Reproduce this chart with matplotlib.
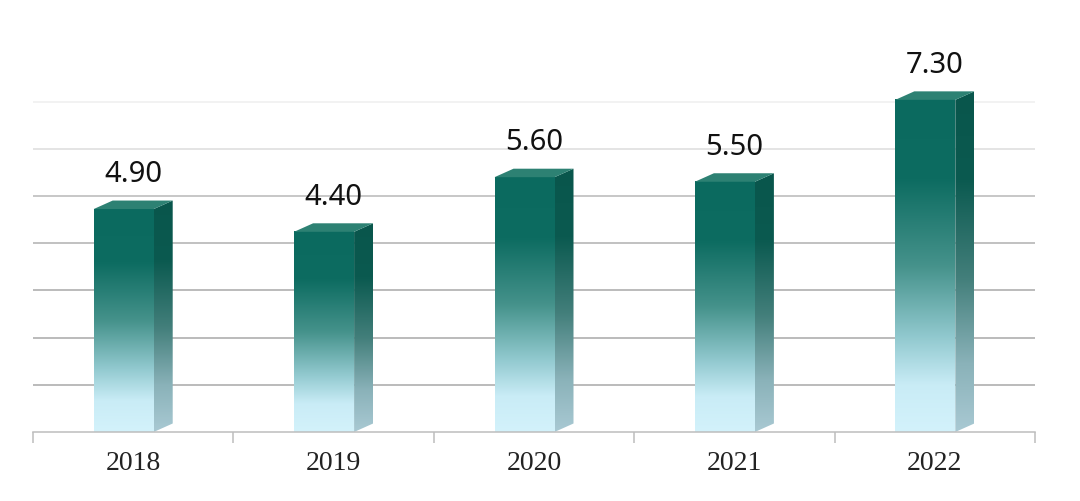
import matplotlib
matplotlib.use("Agg")
import matplotlib.pyplot as plt
import numpy as np
from matplotlib.colors import LinearSegmentedColormap
from matplotlib.patches import Polygon

# ── Data ─────────────────────────────────────────────────────────────────────
years  = ["2018", "2019", "2020", "2021", "2022"]
values = [4.90, 4.40, 5.60, 5.50, 7.30]

# ── Geometry (pixel based, figure is 1080x501 @ 100 dpi) ─────────────────────
W, H = 1080, 501
AX_L, AX_R = 33, 1035          # axis extents in px
AX_BOT, AX_TOP = 432, 20
PX_PER_UNIT = 45.5
px_cat = (AX_R - AX_L) / len(years)

front_w = 60 / px_cat          # front face width (category units)
depth_x = 19 / px_cat          # oblique depth, x
depth_y = 8.5 / PX_PER_UNIT    # oblique depth, y
grid_step = 47.2 / PX_PER_UNIT

front_cmap = LinearSegmentedColormap.from_list("front", [
    (0.00, "#0b6a5f"), (0.24, "#0d6c61"), (0.50, "#45928b"),
    (0.72, "#93cad0"), (0.86, "#c9ecf6"), (1.00, "#d3f2fb")])
side_cmap = LinearSegmentedColormap.from_list("side", [
    (0.00, "#09564c"), (0.26, "#0b5a50"), (0.55, "#437f7b"),
    (0.80, "#8ab2b9"), (1.00, "#a9c9d3")])
top_color = "#2d8173"

fig = plt.figure(figsize=(W / 100, H / 100), dpi=100)
ax = fig.add_axes([AX_L / W, 1 - AX_BOT / H, (AX_R - AX_L) / W, (AX_BOT - AX_TOP) / H])

# gridlines
grid_colors = ["#a8a8a8", "#a8a8a8", "#a8a8a8", "#b0b0b0", "#b8b8b8", "#dcdcdc", "#efefef"]
for k, gc in enumerate(grid_colors, start=1):
    ax.axhline(k * grid_step, color=gc, lw=1.1, zorder=0)

grad = np.linspace(0, 1, 256).reshape(-1, 1)

for i, v in enumerate(values):
    x0 = i - (front_w + depth_x) / 2
    x1 = x0 + front_w
    # front face
    ax.imshow(grad, cmap=front_cmap, aspect="auto", origin="upper",
              extent=[x0, x1, 0, v], zorder=2, interpolation="bilinear")
    # side face
    side = Polygon([(x1, 0), (x1 + depth_x, depth_y), (x1 + depth_x, v + depth_y), (x1, v)],
                   closed=True, facecolor="none", edgecolor="none")
    ax.add_patch(side)
    im = ax.imshow(grad, cmap=side_cmap, aspect="auto", origin="upper",
                   extent=[x1, x1 + depth_x, 0, v + depth_y], zorder=2,
                   interpolation="bilinear")
    im.set_clip_path(side)
    # top face
    ax.add_patch(Polygon([(x0, v), (x1, v), (x1 + depth_x, v + depth_y), (x0 + depth_x, v + depth_y)],
                         closed=True, facecolor=top_color, edgecolor="none", zorder=3))
    ax.text(i, v + depth_y + 26 / PX_PER_UNIT, f"{v:.2f}", ha="center", va="center",
            fontsize=21, family="Noto Sans", color="#111111", zorder=4)

ax.set_xlim(-0.5, len(years) - 0.5)
ax.set_ylim(0, (AX_BOT - AX_TOP) / PX_PER_UNIT)

for s in ["top", "right", "left"]:
    ax.spines[s].set_visible(False)
ax.spines["bottom"].set_color("#bdbdbd")
ax.spines["bottom"].set_linewidth(1.1)
ax.set_yticks([])
ax.set_xticks(range(len(years)))
ax.set_xticklabels(years, family="Liberation Serif", fontsize=20, color="#222222")
ax.tick_params(axis="x", which="major", length=0, pad=14)
ax.set_xticks(np.arange(-0.5, len(years)), minor=True)
ax.tick_params(axis="x", which="minor", length=8, width=1.1, color="#bdbdbd", direction="out")

fig.savefig("out.png", dpi=100)
